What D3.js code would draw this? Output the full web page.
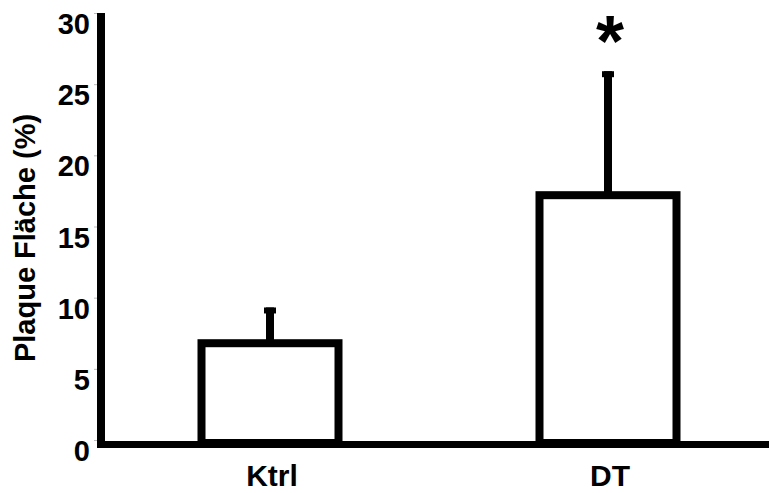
<!DOCTYPE html>
<html>
<head>
<meta charset="utf-8">
<script src="https://cdn.jsdelivr.net/npm/d3@7"></script>
<style>
  body { margin: 0; background: #fff; }
  svg { display: block; font-family: "Liberation Sans", Arial, sans-serif; font-weight: bold; }
</style>
</head>
<body>
<svg width="769" height="493"></svg>
<script>
const groups = ["Ktrl", "DT"];
const means = [6.8, 17.2];
const errors = [2.3, 8.5];
const yTicks = [0, 5, 10, 15, 20, 25, 30];
const marks = ["", "*"];

const svg = d3.select("svg");

const x = d3.scalePoint().domain(groups).range([101, 777]).padding(0.5);
const y = d3.scaleLinear().domain([0, 30]).range([440, 13]);

const barW = 137;
const data = groups.map((g, i) => ({ g, m: means[i], e: errors[i], mark: marks[i] }));

// y axis: faint ticks + bold labels
const yAxis = svg.append("g")
  .attr("transform", "translate(97,0)")
  .call(d3.axisLeft(y).tickValues(yTicks).tickSize(3).tickPadding(4));
yAxis.select(".domain").remove();
yAxis.selectAll(".tick line").attr("stroke", "#bbb");
yAxis.selectAll(".tick text")
  .attr("x", -7)
  .attr("dy", null)
  .attr("y", 20.5)
  .attr("font-size", 29)
  .attr("font-family", "Liberation Sans, Arial, sans-serif")
  .attr("font-weight", "bold")
  .attr("fill", "#000");

// error bars (drawn before bars so the stem sits on the top edge)
const err = svg.append("g").attr("stroke", "#000");
err.selectAll("line.stem")
  .data(data)
  .enter()
  .append("line")
  .attr("class", "stem")
  .attr("x1", d => x(d.g))
  .attr("x2", d => x(d.g))
  .attr("y1", d => y(d.m))
  .attr("y2", d => y(d.m + d.e) - 3)
  .attr("stroke-width", 8);
err.selectAll("line.cap")
  .data(data)
  .enter()
  .append("line")
  .attr("class", "cap")
  .attr("x1", d => x(d.g) - 6)
  .attr("x2", d => x(d.g) + 6)
  .attr("y1", d => y(d.m + d.e))
  .attr("y2", d => y(d.m + d.e))
  .attr("stroke-width", 6);

// bars, bottom edge hidden under the x axis line
svg.append("g")
  .selectAll("rect")
  .data(data)
  .enter()
  .append("rect")
  .attr("x", d => x(d.g) - barW / 2)
  .attr("width", barW)
  .attr("y", d => y(d.m))
  .attr("height", d => y(0) + 3 - y(d.m))
  .attr("fill", "#fff")
  .attr("stroke", "#000")
  .attr("stroke-width", 8);

// axis lines
svg.append("line")
  .attr("x1", 101).attr("x2", 101)
  .attr("y1", y(30)).attr("y2", y(0) + 8)
  .attr("stroke", "#000").attr("stroke-width", 8);
svg.append("line")
  .attr("x1", 97).attr("x2", 769)
  .attr("y1", y(0) + 4.5).attr("y2", y(0) + 4.5)
  .attr("stroke", "#000").attr("stroke-width", 7);

// category labels
svg.append("g")
  .selectAll("text")
  .data(data)
  .enter()
  .append("text")
  .attr("x", d => x(d.g) + 2)
  .attr("y", 486)
  .attr("text-anchor", "middle")
  .attr("font-size", 30)
  .text(d => d.g);

// significance marks
svg.append("g")
  .selectAll("text")
  .data(data)
  .enter()
  .append("text")
  .attr("x", d => x(d.g) + 2)
  .attr("y", 66)
  .attr("text-anchor", "middle")
  .attr("font-size", 72)
  .text(d => d.mark);

// y title
svg.append("text")
  .attr("transform", "translate(35,238) rotate(-90)")
  .attr("text-anchor", "middle")
  .attr("font-size", 29)
  .text("Plaque Fläche (%)");
</script>
</body>
</html>
